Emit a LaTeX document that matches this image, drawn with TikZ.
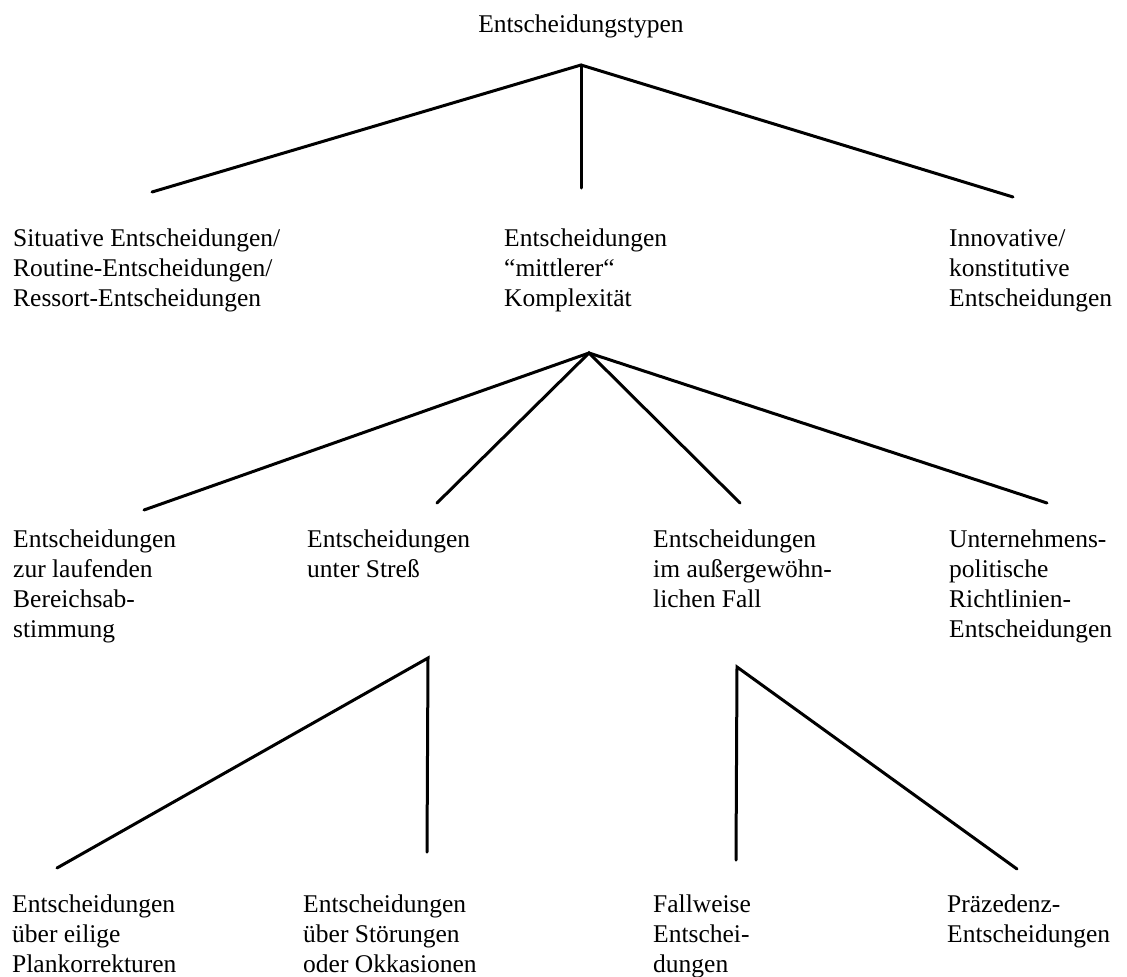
\documentclass[tikz,border=0pt]{standalone}
\usepackage{fontspec}
\setmainfont{Liberation Serif}

\begin{document}
\begin{tikzpicture}[x=1pt,y=-1pt,
  typtext/.style={anchor=north west,inner sep=0pt,align=left,font=\fontsize{25.5}{30}\selectfont},
  branch/.style={line width=3pt,line cap=round,line join=miter}]
  \useasboundingbox (0,0) rectangle (1127,977);

  % top
  \node[anchor=base,inner sep=0pt,font=\fontsize{25.5}{30}\selectfont] (typen) at (581,32) {Entscheidungstypen};
  \coordinate (apexA) at (581,65);
  \coordinate (endSit) at (152,192);
  \coordinate (endMit) at (581,188);
  \coordinate (endInno) at (1013,197);
  \draw[branch] (endSit) -- (apexA) -- (endInno);
  \draw[branch] (apexA) -- (endMit);

  \node[typtext] (situativ) at (13,229) {Situative Entscheidungen/\\Routine-Entscheidungen/\\Ressort-Entscheidungen};
  \node[typtext] (mittel) at (504,229) {Entscheidungen\\“mittlerer“\\Komplexität};
  \node[typtext] (innovativ) at (949,229) {Innovative/\\konstitutive\\Entscheidungen};

  % mittlere Komplexitaet
  \coordinate (apexB) at (589,353);
  \coordinate (endLauf) at (144,510);
  \coordinate (endStress) at (437,503);
  \coordinate (endFall) at (740,503);
  \coordinate (endPolitik) at (1047,503);
  \draw[branch] (endLauf) -- (apexB) -- (endPolitik);
  \draw[branch] (endStress) -- (apexB) -- (endFall);

  \node[typtext] (laufend) at (13,530) {Entscheidungen\\zur laufenden\\Bereichsab-\\stimmung};
  \node[typtext] (stress) at (307,530) {Entscheidungen\\unter Streß};
  \node[typtext] (fall) at (653,530) {Entscheidungen\\im außergewöhn-\\lichen Fall};
  \node[typtext] (politik) at (949,530) {Unternehmens-\\politische\\Richtlinien-\\Entscheidungen};

  % Stress
  \coordinate (apexC) at (428,658);
  \coordinate (endEilig) at (57,868);
  \coordinate (endStoer) at (427,852);
  \draw[branch] (endEilig) -- (apexC) -- (endStoer);

  % ausserg. Fall
  \coordinate (apexD) at (737,667);
  \coordinate (endWeise) at (736,860);
  \coordinate (endPraez) at (1017,869);
  \draw[branch] (endWeise) -- (apexD) -- (endPraez);

  \node[typtext] (eilig) at (12,895) {Entscheidungen\\über eilige\\Plankorrekturen};
  \node[typtext] (stoerung) at (303,895) {Entscheidungen\\über Störungen\\oder Okkasionen};
  \node[typtext] (fallweise) at (653,895) {Fallweise\\Entschei-\\dungen};
  \node[typtext] (praezedenz) at (947,895) {Präzedenz-\\Entscheidungen};
\end{tikzpicture}
\end{document}
